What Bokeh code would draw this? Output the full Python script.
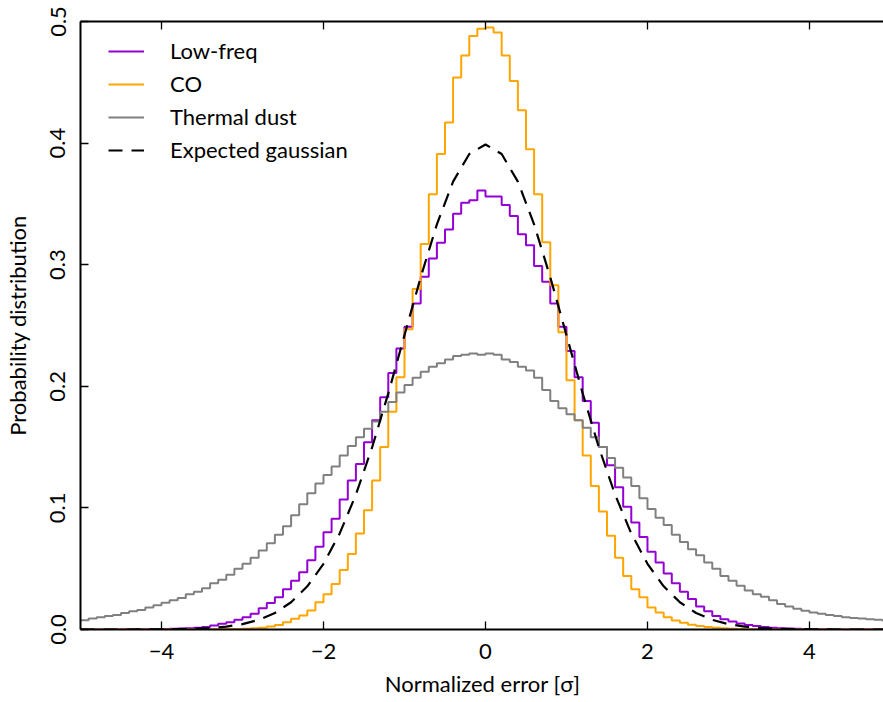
import numpy as np
from bokeh.plotting import figure
from bokeh.models import Range1d, FixedTicker, LinearAxis, Legend, LegendItem
from bokeh.embed import file_html
from bokeh.resources import INLINE

# ---- data -------------------------------------------------------------
# histogram bin edges (width 0.1, from -5 to 5)
bin_edges = [round(-5 + 0.1 * i, 1) for i in range(101)]

low_freq = [
    0.0001, 0.0001, 0.0001, 0.0001, 0.0001, 0.0001, 0.0002, 0.0002, 0.0002, 0.0003,
    0.0004, 0.0006, 0.0008, 0.0011, 0.0015, 0.0020, 0.0033, 0.0047, 0.0060, 0.0080,
    0.0100, 0.0130, 0.0175, 0.0217, 0.0266, 0.0330, 0.0400, 0.0470, 0.0570, 0.0680,
    0.0800, 0.0910, 0.1070, 0.1225, 0.1360, 0.1540, 0.1720, 0.1910, 0.2110, 0.2310,
    0.2490, 0.2680, 0.2900, 0.3050, 0.3180, 0.3290, 0.3420, 0.3510, 0.3530, 0.3610,
    0.3560, 0.3560, 0.3490, 0.3400, 0.3250, 0.3160, 0.2990, 0.2860, 0.2680, 0.2490,
    0.2290, 0.2075, 0.1880, 0.1700, 0.1500, 0.1350, 0.1170, 0.1010, 0.0880, 0.0760,
    0.0640, 0.0550, 0.0460, 0.0380, 0.0310, 0.0250, 0.0190, 0.0150, 0.0110, 0.0085,
    0.0065, 0.0050, 0.0038, 0.0028, 0.0020, 0.0015, 0.0011, 0.0008, 0.0006, 0.0004,
    0.0003, 0.0002, 0.0002, 0.0001, 0.0001, 0.0001, 0.0001, 0.0000, 0.0000, 0.0000,
]

co = [
    0.0000, 0.0000, 0.0000, 0.0000, 0.0000, 0.0000, 0.0000, 0.0000, 0.0000, 0.0000,
    0.0000, 0.0000, 0.0000, 0.0001, 0.0001, 0.0001, 0.0002, 0.0003, 0.0004, 0.0005,
    0.0007, 0.0010, 0.0014, 0.0025, 0.0038, 0.0060, 0.0088, 0.0115, 0.0156, 0.0225,
    0.0290, 0.0375, 0.0490, 0.0620, 0.0790, 0.0980, 0.1225, 0.1500, 0.1790, 0.2075,
    0.2470, 0.2800, 0.3170, 0.3580, 0.3910, 0.4170, 0.4540, 0.4720, 0.4880, 0.4940,
    0.4950, 0.4910, 0.4720, 0.4510, 0.4270, 0.3950, 0.3580, 0.3185, 0.2830, 0.2445,
    0.2050, 0.1720, 0.1430, 0.1180, 0.0970, 0.0770, 0.0590, 0.0440, 0.0330, 0.0266,
    0.0180, 0.0140, 0.0100, 0.0075, 0.0055, 0.0040, 0.0028, 0.0020, 0.0014, 0.0010,
    0.0007, 0.0005, 0.0003, 0.0002, 0.0001, 0.0001, 0.0000, 0.0000, 0.0000, 0.0000,
    0.0000, 0.0000, 0.0000, 0.0000, 0.0000, 0.0000, 0.0000, 0.0000, 0.0000, 0.0000,
]

thermal_dust = [
    0.0077, 0.0090, 0.0100, 0.0110, 0.0120, 0.0135, 0.0150, 0.0160, 0.0180, 0.0200,
    0.0220, 0.0240, 0.0260, 0.0290, 0.0310, 0.0340, 0.0380, 0.0410, 0.0450, 0.0500,
    0.0540, 0.0590, 0.0650, 0.0710, 0.0780, 0.0850, 0.0940, 0.1030, 0.1120, 0.1200,
    0.1270, 0.1340, 0.1430, 0.1510, 0.1580, 0.1650, 0.1710, 0.1790, 0.1870, 0.1950,
    0.2010, 0.2070, 0.2120, 0.2160, 0.2190, 0.2220, 0.2250, 0.2260, 0.2270, 0.2260,
    0.2270, 0.2260, 0.2220, 0.2200, 0.2160, 0.2130, 0.2070, 0.1970, 0.1880, 0.1820,
    0.1770, 0.1720, 0.1660, 0.1580, 0.1500, 0.1410, 0.1330, 0.1250, 0.1180, 0.1080,
    0.0990, 0.0920, 0.0860, 0.0780, 0.0720, 0.0660, 0.0610, 0.0550, 0.0500, 0.0440,
    0.0400, 0.0360, 0.0320, 0.0290, 0.0270, 0.0240, 0.0210, 0.0190, 0.0170, 0.0155,
    0.0140, 0.0130, 0.0120, 0.0110, 0.0100, 0.0095, 0.0090, 0.0085, 0.0080, 0.0075,
]

# expected gaussian (unit normal) sampled every 0.2
gauss_x = [round(-5 + 0.2 * i, 1) for i in range(51)]
gauss_y = [
    0.0000, 0.0000, 0.0000, 0.0000, 0.0001, 0.0001, 0.0003, 0.0006, 0.0012, 0.0024,
    0.0044, 0.0079, 0.0136, 0.0224, 0.0355, 0.0540, 0.0790, 0.1109, 0.1497, 0.1942,
    0.2420, 0.2897, 0.3332, 0.3683, 0.3910, 0.3989, 0.3910, 0.3683, 0.3332, 0.2897,
    0.2420, 0.1942, 0.1497, 0.1109, 0.0790, 0.0540, 0.0355, 0.0224, 0.0136, 0.0079,
    0.0044, 0.0024, 0.0012, 0.0006, 0.0003, 0.0001, 0.0001, 0.0000, 0.0000, 0.0000,
    0.0000,
]

x_ticks = [-4, -2, 0, 2, 4]
x_tick_labels = ["\u22124", "\u22122", "0", "2", "4"]
y_ticks = [0.0, 0.1, 0.2, 0.3, 0.4, 0.5]
y_tick_labels = ["0.0", "0.1", "0.2", "0.3", "0.4", "0.5"]

series_names = ["Low-freq", "CO", "Thermal dust", "Expected gaussian"]
series_colors = ["#9400d3", "#ffa500", "#808080", "black"]

FONT = "Lato"
FS = "22px"

# ---- figure -----------------------------------------------------------
p = figure(
    width=883, height=702,
    x_range=Range1d(-5, 4.914), y_range=Range1d(0, 0.5),
    output_backend="svg", toolbar_location=None,
    min_border_left=79, min_border_right=0, min_border_top=21, min_border_bottom=73,
)
p.outline_line_color = None
p.grid.visible = False
p.background_fill_color = "white"
p.border_fill_color = "white"

renderers = []
for vals, col in zip([low_freq, co, thermal_dust], series_colors[:3]):
    r = p.step(bin_edges, vals + [vals[-1]], mode="after", line_color=col, line_width=2)
    renderers.append(r)
rg = p.line(gauss_x, gauss_y, line_color="black", line_width=2.2, line_dash="14 9")
renderers.append(rg)

def style_axis(ax):
    ax.axis_line_color = "black"
    ax.axis_line_width = 2
    ax.major_tick_in = 8
    ax.major_tick_out = 0
    ax.minor_tick_line_color = None
    ax.major_tick_line_color = "black"
    ax.major_tick_line_width = 1.3
    ax.major_label_text_font = FONT
    ax.major_label_text_font_size = FS
    ax.major_label_text_color = "black"
    ax.axis_label_text_font = FONT
    ax.axis_label_text_font_style = "normal"
    ax.axis_label_text_font_size = FS
    ax.axis_label_text_color = "black"

xa = p.xaxis[0]
xa.ticker = FixedTicker(ticks=x_ticks)
xa.major_label_overrides = {t: l for t, l in zip(x_ticks, x_tick_labels)}
xa.axis_label = "Normalized error [\u03c3]"
style_axis(xa)
xa.major_label_standoff = 14
xa.axis_label_standoff = 8

ya = p.yaxis[0]
ya.ticker = FixedTicker(ticks=y_ticks)
ya.major_label_overrides = {t: l for t, l in zip(y_ticks, y_tick_labels)}
ya.axis_label = "Probability distribution"
style_axis(ya)
ya.major_label_orientation = "vertical"
ya.major_label_standoff = 15
ya.axis_label_standoff = 17

top = LinearAxis(ticker=FixedTicker(ticks=x_ticks))
style_axis(top)
top.major_label_overrides = {t: "" for t in x_ticks}
top.major_label_standoff = 0
p.add_layout(top, "above")

legend = Legend(
    items=[LegendItem(label=n, renderers=[r]) for n, r in zip(series_names, renderers)],
    location=(28, 466),
    border_line_color=None,
    background_fill_alpha=0,
    padding=0, margin=0,
    glyph_width=36, glyph_height=20,
    label_standoff=26, spacing=6,
    label_text_font=FONT, label_text_font_size=FS, label_text_color="black",
    label_height=20,
)
p.add_layout(legend)

open("out.html", "w").write(file_html(p, INLINE))
